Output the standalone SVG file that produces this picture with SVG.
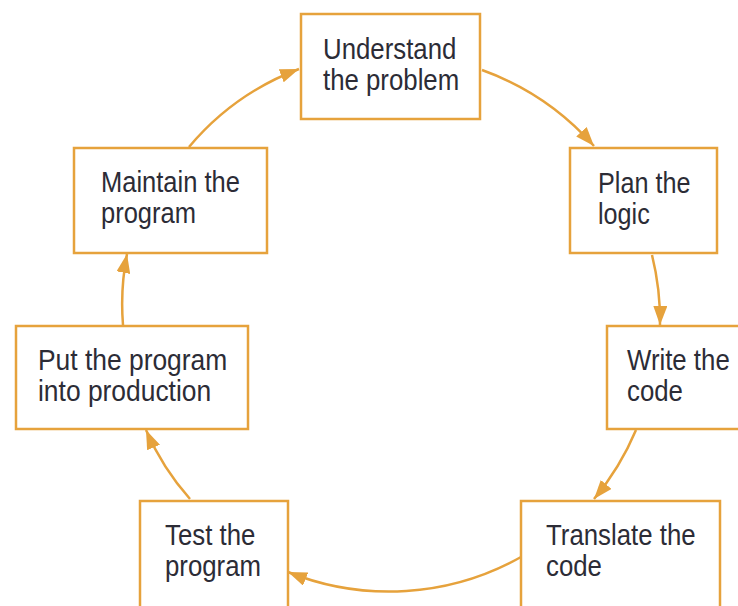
<svg xmlns="http://www.w3.org/2000/svg" width="738" height="606" viewBox="0 0 738 606">
  <style>
    .box { fill: #ffffff; stroke: #e6a23c; stroke-width: 2.5; }
    .lbl { font-family: "Liberation Sans", Arial, sans-serif; font-size: 30px; fill: #2c2c36; }
    .conn { fill: none; stroke: #e6a23c; stroke-width: 2.5; marker-end: url(#head); }
  </style>
  <defs>
    <marker id="head" markerUnits="userSpaceOnUse" markerWidth="20" markerHeight="14" refX="19" refY="7" orient="auto">
      <path d="M0,0 L19,7 L0,14 Z" fill="#e6a23c"/>
    </marker>
  </defs>

  <rect width="738" height="606" fill="#ffffff"/>

  <!-- connectors: one clockwise loop of arcs -->
  <g id="connectors">
    <path class="conn" d="M482,70 A272,272 0 0 1 594,146"/>
    <path class="conn" d="M652,255 A272,272 0 0 1 660,325"/>
    <path class="conn" d="M636,430 A272,272 0 0 1 594,499"/>
    <path class="conn" d="M521,557 A270,270 0 0 1 288,572"/>
    <path class="conn" d="M190,499 A260,260 0 0 1 146,430"/>
    <path class="conn" d="M123,325 A260,260 0 0 1 127,254"/>
    <path class="conn" d="M189,147 A266,266 0 0 1 299,69"/>
  </g>

  <g id="understand">
    <rect class="box" x="301" y="14" width="179" height="105"/>
    <text class="lbl" transform="translate(323,59) scale(0.86,1)"><tspan x="0" y="0">Understand</tspan><tspan x="0" y="31">the problem</tspan></text>
  </g>

  <g id="plan">
    <rect class="box" x="570" y="148" width="147" height="105"/>
    <text class="lbl" transform="translate(598,193) scale(0.84,1)"><tspan x="0" y="0">Plan the</tspan><tspan x="0" y="31">logic</tspan></text>
  </g>

  <g id="write">
    <rect class="box" x="607" y="326" width="140" height="103"/>
    <text class="lbl" transform="translate(627,370) scale(0.86,1)"><tspan x="0" y="0">Write the</tspan><tspan x="0" y="31">code</tspan></text>
  </g>

  <g id="translate">
    <rect class="box" x="521" y="501" width="199" height="110"/>
    <text class="lbl" transform="translate(546,545) scale(0.86,1)"><tspan x="0" y="0">Translate the</tspan><tspan x="0" y="31">code</tspan></text>
  </g>

  <g id="test">
    <rect class="box" x="140" y="501" width="148" height="110"/>
    <text class="lbl" transform="translate(165,545) scale(0.86,1)"><tspan x="0" y="0">Test the</tspan><tspan x="0" y="31">program</tspan></text>
  </g>

  <g id="production">
    <rect class="box" x="16" y="326" width="232" height="103"/>
    <text class="lbl" transform="translate(38,370) scale(0.88,1)"><tspan x="0" y="0">Put the program</tspan><tspan x="0" y="31">into production</tspan></text>
  </g>

  <g id="maintain">
    <rect class="box" x="74" y="148" width="193" height="105"/>
    <text class="lbl" transform="translate(101,192) scale(0.85,1)"><tspan x="0" y="0">Maintain the</tspan><tspan x="0" y="31">program</tspan></text>
  </g>
</svg>
